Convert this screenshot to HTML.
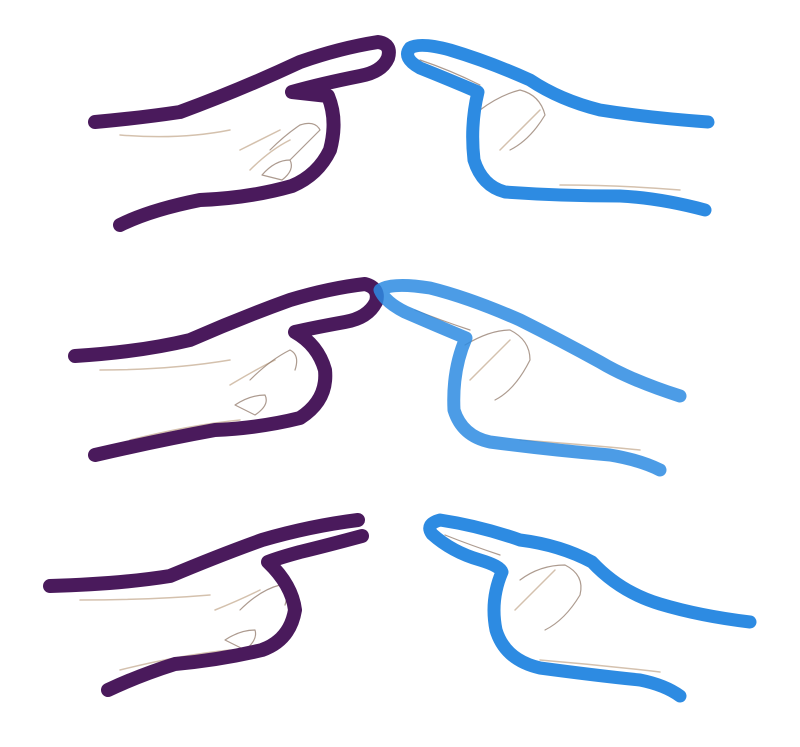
<!DOCTYPE html>
<html>
<head>
<meta charset="utf-8">
<style>
  html,body{margin:0;padding:0;background:#fff;}
  svg{display:block;}
</style>
</head>
<body>
<svg width="800" height="747" viewBox="0 0 800 747">
  <rect width="800" height="747" fill="#ffffff"/>

  <g fill="none" stroke-linecap="round" stroke-linejoin="round">
    <!-- Shadows / sketch hints -->
    <g stroke="#b89878" stroke-width="1.5" opacity="0.6">
      <path d="M120 135 Q180 140 230 130"/>
      <path d="M240 150 Q260 140 280 130"/>
      <path d="M250 170 Q270 150 290 140"/>
      <path d="M140 210 Q200 195 250 190"/>
      <path d="M500 150 Q520 130 540 110"/>
      <path d="M560 185 Q620 185 680 190"/>
      <path d="M100 370 Q170 370 230 360"/>
      <path d="M230 385 Q255 370 275 360"/>
      <path d="M130 440 Q190 425 240 420"/>
      <path d="M470 380 Q490 360 510 340"/>
      <path d="M520 440 Q590 445 640 450"/>
      <path d="M80 600 Q150 600 210 595"/>
      <path d="M215 610 Q240 600 260 590"/>
      <path d="M120 670 Q180 655 230 650"/>
      <path d="M515 610 Q535 590 555 570"/>
      <path d="M540 660 Q600 665 660 672"/>
    </g>
    <g stroke="#8a7060" stroke-width="1.2" opacity="0.7">
      <path d="M270 150 Q285 135 300 125 Q315 120 320 130 Q305 145 290 160"/>
      <path d="M262 175 Q275 160 290 160 Q295 170 282 180 Z"/>
      <path d="M480 110 Q500 95 520 90 Q540 95 545 115 Q530 140 510 150"/>
      <path d="M250 380 Q270 360 290 350 Q300 355 295 370"/>
      <path d="M235 405 Q250 395 265 395 Q270 405 255 415 Z"/>
      <path d="M465 345 Q490 330 510 330 Q530 340 530 360 Q515 390 495 400"/>
      <path d="M240 610 Q260 590 280 585 Q290 590 285 605"/>
      <path d="M225 640 Q240 630 255 630 Q258 640 245 650 Z"/>
      <path d="M520 580 Q540 565 565 565 Q585 575 580 595 Q565 620 545 630"/>
      <path d="M415 310 Q440 320 470 330"/>
      <path d="M420 60 Q450 70 480 85"/>
      <path d="M445 535 Q470 545 500 555"/>
    </g>

    <!-- Row 1 -->
    <path stroke="#4a1a5c" stroke-width="14"
      d="M95 122 Q140 118 180 112 Q240 90 300 62 Q340 48 378 42 Q392 44 388 58 Q382 72 360 76 Q320 84 292 92 Q310 94 328 96 Q338 120 330 150 Q318 175 292 186 Q250 198 200 200 Q150 210 120 225"/>
    <path stroke="#2d8be2" stroke-width="13"
      d="M708 122 Q650 118 600 110 Q560 100 530 80 Q490 62 450 50 Q420 42 410 48 Q402 58 420 68 Q450 80 478 92 Q470 125 474 160 Q482 186 505 192 Q560 196 620 196 Q660 198 705 210"/>

    <!-- Row 2 -->
    <path stroke="#4a1a5c" stroke-width="14"
      d="M75 356 Q140 352 190 340 Q240 318 290 300 Q330 288 365 284 Q380 288 376 302 Q368 318 345 322 Q312 328 295 332 Q318 345 325 370 Q328 400 300 418 Q260 428 215 430 Q160 440 95 455"/>
    <path stroke="#2d8be2" stroke-width="13" opacity="0.85"
      d="M680 396 Q630 380 600 362 Q560 340 520 320 Q470 298 430 288 Q392 282 380 290 Q385 302 405 312 Q435 325 466 338 Q452 370 454 410 Q462 436 490 442 Q550 450 610 455 Q640 460 660 470"/>

    <!-- Row 3 -->
    <path stroke="#4a1a5c" stroke-width="14"
      d="M50 586 Q120 584 170 576 Q220 555 262 540 Q310 526 358 520 M362 536 Q325 546 300 552 Q278 558 268 562 Q292 585 295 610 Q290 640 262 650 Q220 660 175 664 Q140 675 108 690"/>
    <path stroke="#2d8be2" stroke-width="13"
      d="M750 622 Q700 616 660 604 Q620 592 592 562 Q560 545 520 540 Q480 526 440 520 Q425 524 432 534 Q452 552 480 560 Q500 566 502 572 Q490 600 496 630 Q505 660 540 668 Q600 676 640 680 Q665 685 680 696"/>
  </g>
</svg>
</body>
</html>
